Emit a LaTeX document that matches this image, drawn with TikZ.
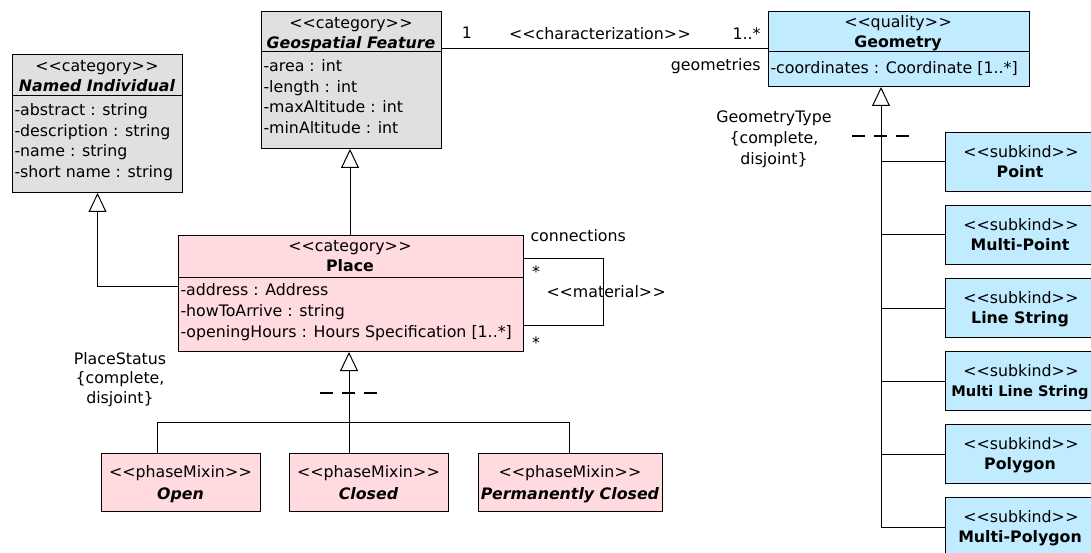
\documentclass[tikz,border=0pt]{standalone}
\usepackage{fontspec}
\setmainfont{DejaVu Sans}
\usetikzlibrary{arrows.meta}
\definecolor{grayfill}{RGB}{224,224,224}
\definecolor{pinkfill}{RGB}{255,218,222}
\definecolor{bluefill}{RGB}{193,235,254}
\newcommand{\stereo}[1]{\textless\kern0pt\textless\kern0pt#1\kern0pt\textgreater\kern0.5pt\textgreater}
\newcommand{\umlfont}{\fontsize{15.8}{20}\selectfont}
\begin{document}
\begin{tikzpicture}[x=1pt,y=-1pt,line width=1pt,
  box/.style={draw=black, line width=1pt, inner sep=0pt, anchor=north west},
  txt/.style={inner sep=0pt, anchor=mid, yshift=-2.5pt, font=\umlfont},
  lft/.style={inner sep=0pt, anchor=mid west, yshift=-2.5pt, font=\umlfont},
  bi/.style={txt, font=\umlfont\bfseries\itshape},
  bd/.style={txt, font=\umlfont\bfseries},
  gen/.style={-{Triangle[open,width=18pt,length=19pt,fill=white]}},
  disj/.style={line width=1.8pt, dash pattern=on 13pt off 9pt},
]
\useasboundingbox (0,0) rectangle (1091,553);
\clip (0,0) rectangle (1091,553);

% ---------- Named Individual ----------
\node[box, fill=grayfill, minimum width=170pt, minimum height=138pt] (ni) at (12,54) {};
\draw (ni.west |- 0,96) -- (ni.east |- 0,96);
\node[txt] (niS) at (97,66) {\stereo{category}};
\node[bi]  (niN) at (97,86) {Named Individual};
\node[lft] (niA1) at (14,110) {-abstract : string};
\node[lft] (niA2) at (14,131) {-description : string};
\node[lft] (niA3) at (14,151) {-name : string};
\node[lft] (niA4) at (14,172) {-short name : string};

% ---------- Geospatial Feature ----------
\node[box, fill=grayfill, minimum width=180pt, minimum height=137pt] (gf) at (261,11) {};
\draw (gf.west |- 0,52) -- (gf.east |- 0,52);
\node[txt] (gfS) at (351,23) {\stereo{category}};
\node[bi]  (gfN) at (351,43) {Geospatial Feature};
\node[lft] (gfA1) at (263,66) {-area : int};
\node[lft] (gfA2) at (263,87) {-length : int};
\node[lft] (gfA3) at (263,107) {-maxAltitude : int};
\node[lft] (gfA4) at (263,128) {-minAltitude : int};

% ---------- Geometry ----------
\node[box, fill=bluefill, minimum width=261pt, minimum height=75pt] (geo) at (768,11) {};
\draw (geo.west |- 0,52) -- (geo.east |- 0,52);
\node[txt] (geoS) at (898,22) {\stereo{quality}};
\node[bd]  (geoN) at (898,42) {Geometry};
\node[lft] (geoA1) at (770,68) {-coordinates : Coordinate [1..*]};

% ---------- Place ----------
\node[box, fill=pinkfill, minimum width=345pt, minimum height=116pt] (place) at (178,235) {};
\draw (place.west |- 0,277) -- (place.east |- 0,277);
\node[txt] (plS) at (350,246) {\stereo{category}};
\node[bd]  (plN) at (350,266) {Place};
\node[lft] (plA1) at (180,290) {-address : Address};
\node[lft] (plA2) at (180,311) {-howToArrive : string};
\node[lft] (plA3) at (180,332) {-openingHours : Hours Specification [1..*]};

% ---------- Phases ----------
\node[box, fill=pinkfill, minimum width=159pt, minimum height=58pt] (open) at (101,453) {};
\node[txt] (opS) at (180.5,472) {\stereo{phaseMixin}};
\node[bi]  (opN) at (180.5,494) {Open};
\node[box, fill=pinkfill, minimum width=159pt, minimum height=58pt] (closed) at (289,453) {};
\node[txt] (clS) at (368.5,472) {\stereo{phaseMixin}};
\node[bi]  (clN) at (368.5,494) {Closed};
\node[box, fill=pinkfill, minimum width=184pt, minimum height=58pt] (pclosed) at (478,453) {};
\node[txt] (pcS) at (570,472) {\stereo{phaseMixin}};
\node[bi]  (pcN) at (570,494) {Permanently Closed};

% ---------- Subkinds ----------
\foreach \nm/\top/\lab in {point/132/Point, mpoint/205/Multi-Point, lstring/278/Line String,
    mlstring/351/{\fontsize{14.6}{18}\selectfont Multi Line String}, polygon/424/Polygon, mpolygon/497/Multi-Polygon}{
  \node[box, fill=bluefill, minimum width=152pt, minimum height=59pt] (\nm) at (945,\top) {};
  \node[txt] (\nm S) at (1021,\top+20) {\stereo{subkind}};
  \node[bd]  (\nm N) at (1020,\top+40) {\lab};
}

% ---------- Association characterization ----------
\draw (gf.east |- 0,49) -- (geo.west |- 0,49);
\node[txt] (am1) at (467,33) {1};
\node[txt] (aSt) at (600,34) {\stereo{characterization}};
\node[lft, anchor=mid east] (am2) at (761,34) {1..*};
\node[lft, anchor=mid east] (aRole) at (761,65) {geometries};

% ---------- Self association material ----------
\coordinate (selfA) at (603,258);
\coordinate (selfB) at (603,325);
\draw (place.east |- selfA) -- (selfA) -- (selfB) -- (place.east |- selfB);
\node[lft] (mRole) at (530,236) {connections};
\node[txt] (mm1) at (536,272) {*};
\node[lft] (mSt) at (546,292) {\stereo{material}};
\node[txt] (mm2) at (536,343) {*};

% ---------- Generalizations ----------
\draw[gen] (place.north -| 350,0) -- (gf.south -| 350,0);
\draw[gen] (place.west |- 0,286) -| (ni.south);

\coordinate (psplit) at (349,422);
\draw[gen] (psplit) -- (psplit |- place.south);
\draw (open.north -| 157,0) |- (psplit);
\draw (pclosed.north -| 569,0) |- (psplit);
\draw (closed.north -| psplit) -- (psplit);
\draw[disj] (320,393) -- (377,393);
\node[txt, anchor=center, yshift=0pt, align=center, font={\fontsize{15.8}{19.5}\selectfont}] (pstatus) at (120,377) {PlaceStatus\\\{complete,\\disjoint\}};

\coordinate (gtrunk) at (881,527);
\draw[gen] (gtrunk) -- (gtrunk |- geo.south);
\foreach \nm in {point,mpoint,lstring,mlstring,polygon,mpolygon}{
  \draw (\nm.west) -- (\nm.west -| gtrunk);
}
\draw[disj] (852,136) -- (910,136);
\node[txt, anchor=center, yshift=0pt, align=center, font={\fontsize{15.8}{21}\selectfont}] (gtype) at (774,137) {GeometryType\\\{complete,\\disjoint\}};
\end{tikzpicture}
\end{document}
